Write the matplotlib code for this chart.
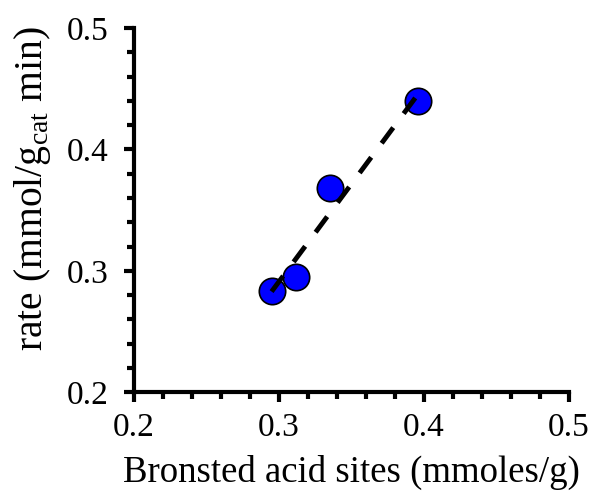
import numpy as np
import matplotlib
matplotlib.use("Agg")
import matplotlib.pyplot as plt
from matplotlib.ticker import MultipleLocator

plt.rcParams['font.family'] = ['Liberation Serif', 'DejaVu Serif']
plt.rcParams['mathtext.fontset'] = 'custom'
plt.rcParams['mathtext.rm'] = 'Liberation Serif'

# Bronsted acid site density vs. reaction rate
acid_sites = [0.295, 0.312, 0.335, 0.396]
rate = [0.283, 0.295, 0.368, 0.440]

x_ticks = [0.2, 0.3, 0.4, 0.5]
y_ticks = [0.2, 0.3, 0.4, 0.5]

fig = plt.figure(figsize=(5.92, 4.95), dpi=100)
ax = fig.add_axes([0.226, 0.208, 0.735, 0.735])

ax.plot(acid_sites, rate, 'o', ms=19, mfc='#0000ff', mec='black', mew=1.2, zorder=2)

# least-squares trend line across the data range
slope, intercept = np.polyfit(acid_sites, rate, 1)
xs = np.array([min(acid_sites), max(acid_sites)])
ax.plot(xs, slope * xs + intercept, '--', color='black', lw=3.5, dashes=(4, 3.6), zorder=3)

ax.set_xlim(0.2, 0.5)
ax.set_ylim(0.2, 0.5)
ax.set_xticks(x_ticks)
ax.set_yticks(y_ticks)
ax.set_xticklabels([f"{v:.1f}" for v in x_ticks])
ax.set_yticklabels([f"{v:.1f}" for v in y_ticks])
ax.xaxis.set_minor_locator(MultipleLocator(0.02))
ax.yaxis.set_minor_locator(MultipleLocator(0.02))

for side in ('top', 'right'):
    ax.spines[side].set_visible(False)
for side in ('left', 'bottom'):
    ax.spines[side].set_linewidth(3)

ax.tick_params(which='major', direction='out', length=7, width=3, labelsize=24, pad=8)
ax.tick_params(which='minor', direction='out', length=5, width=3)
ax.tick_params(axis='y', which='major', pad=11)

ax.set_xlabel('Bronsted acid sites (mmoles/g)', fontsize=26.5, labelpad=8)
ax.set_ylabel(r'rate (mmol/g$_\mathregular{cat}$ min)', fontsize=28.5, labelpad=10, y=0.56)

fig.savefig('out.png', dpi=100)
